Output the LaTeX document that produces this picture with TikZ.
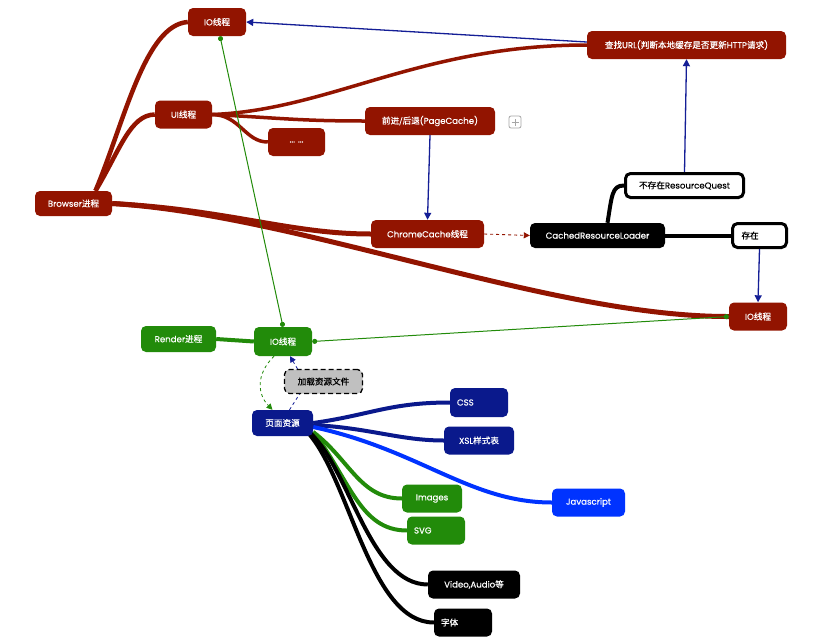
\documentclass[tikz,border=0pt]{standalone}
\usepackage{fontspec}
\setmainfont{Poppins}[FakeBold=0.5]
\newfontfamily\cjk{Noto Sans CJK SC}[FakeBold=0.6]
\newcommand\zh[1]{{\cjk #1}}
\usetikzlibrary{arrows.meta}
\definecolor{dred}{RGB}{146,20,0}
\definecolor{dgreen}{RGB}{34,139,10}
\definecolor{dblue}{RGB}{10,25,140}
\definecolor{bblue}{RGB}{0,51,255}
\definecolor{lblue}{RGB}{20,30,150}
\definecolor{lgray}{RGB}{192,192,192}
\pgfdeclarelayer{bg}
\pgfsetlayers{bg,main}
\begin{document}
\begin{tikzpicture}[x=1pt,y=-1pt,
  box/.style={rounded corners=5pt, text=white, font=\fontsize{8.6}{10}\selectfont, inner sep=0pt, minimum height=28pt},
  rbox/.style={box, fill=dred},
  gbox/.style={box, fill=dgreen},
  bbox/.style={box, fill=dblue},
  kbox/.style={box, fill=black},
  wbox/.style={box, fill=white, text=black, draw=black, line width=3pt},
  rbr/.style={draw=dred, line width=4.5pt},
  gbr/.style={draw=dgreen, line width=4pt},
  bbr/.style={draw=dblue, line width=4pt},
  lbbr/.style={draw=bblue, line width=4pt},
  kbr/.style={draw=black, line width=4pt},
  bluearr/.style={draw=lblue, line width=1.3pt, -{Triangle[width=7pt,length=7pt]}},
  greenlink/.style={draw=dgreen, line width=1pt, {Circle[length=5pt]}-{Circle[length=5pt]}}]
\useasboundingbox (0,0) rectangle (838,640);

% nodes
\node[rbox, minimum width=58pt] (io1) at (217,22) {IO\zh{线程}};
\node[rbox, minimum width=57pt] (ui) at (183.5,114.5) {UI\zh{线程}};
\node[rbox, minimum width=77pt, minimum height=25pt] (br) at (73.5,203.5) {Browser\zh{进程}};
\node[rbox, minimum width=57pt] (dots) at (296.5,142) {... ...};
\node[rbox, minimum width=130pt] (fb) at (430,121) {\zh{前进/后退}(PageCache)};
\node[rbox, minimum width=199pt] (url) at (686.5,45) {\zh{查找}URL(\zh{判断本地缓存是否更新}HTTP\zh{请求})};
\node[wbox, minimum width=118pt, minimum height=24pt] (nc) at (684.5,185.5) {\zh{不存在}ResourceQuest};
\node[rbox, minimum width=113pt] (cc) at (427.5,234) {ChromeCache\zh{线程}};
\node[kbox, minimum width=135pt, minimum height=25pt] (crl) at (597.5,235.5) {CachedResourceLoader};
\node[wbox, minimum width=54pt, minimum height=24pt] (cz) at (759.5,235.5) {\makebox[36pt][l]{\zh{存在}}};
\node[rbox, minimum width=58pt] (io2) at (758,316.5) {IO\zh{线程}};
\node[gbox, minimum width=75pt, minimum height=26pt] (rd) at (178.5,339) {Render\zh{进程}};
\node[gbox, minimum width=58pt, minimum height=29pt] (io3) at (283,341.5) {IO\zh{线程}};
\node[box, fill=lgray, text=black, draw=black, dash pattern=on 5pt off 3pt, line width=1.3pt, minimum width=78pt, minimum height=24pt] (ld) at (323.5,381.5) {\zh{加载资源文件}};
\node[bbox, minimum width=61pt, minimum height=26pt] (pr) at (282.5,423) {\zh{页面资源}};
\node[bbox, minimum width=58pt, minimum height=29pt] (css) at (479,402.5) {\makebox[44pt][l]{CSS}};
\node[bbox, minimum width=70pt] (xsl) at (479,440.5) {XSL\zh{样式表}};
\node[box, fill=bblue, minimum width=73pt] (js) at (588.5,502.5) {Javascript};
\node[gbox, minimum width=60pt] (img) at (432,498.5) {Images};
\node[gbox, minimum width=58pt] (svg) at (436,530.5) {\makebox[44pt][l]{SVG}};
\node[kbox, minimum width=92pt] (vid) at (474,584.5) {Video,Audio\zh{等}};
\node[kbox, minimum width=58pt] (font) at (463,622.5) {\makebox[44pt][l]{\zh{字体}}};
\node[draw=gray!70, rounded corners=2pt, minimum size=12pt, inner sep=0pt, line width=0.8pt] (plus) at (515,122) {};
\draw[gray!70, line width=0.8pt] ([xshift=-3.5pt]plus.center) -- ([xshift=3.5pt]plus.center)
  ([yshift=-3.5pt]plus.center) -- ([yshift=3.5pt]plus.center);

% branches
\begin{pgfonlayer}{bg}
\fill[white] (0,0) rectangle (838,640);
\draw[rbr] (br.30) .. controls (125,120) and (145,25) .. (io1.west);
\draw[rbr] (br.30) .. controls (120,150) and (130,115) .. (ui.west);
\draw[rbr, line width=5pt] (br.east) .. controls (230,210) and (290,234) .. (cc.west);
\draw[rbr, line width=5pt] (br.east) .. controls (300,215) and (550,317) .. (io2.west);
\draw[rbr, line width=3.5pt] (ui.east) .. controls (330,110) and (420,45) .. (url.west);
\draw[rbr, line width=3.5pt] (ui.east) .. controls (280,118) and (300,121) .. (fb.west);
\draw[rbr, line width=3.5pt] (ui.east) .. controls (240,115) and (245,142) .. (dots.west);
\draw[kbr] ([xshift=10pt]crl.north) .. controls (612,195) and (612,185.5) .. (nc.west);
\draw[kbr] (crl.east) -- (cz.west);
\draw[gbr] (rd.east) -- (io3.west);
\draw[bbr] (pr.east) .. controls (370,415) and (390,402.5) .. (css.west);
\draw[bbr] ([yshift=-2pt]pr.east) .. controls (370,428) and (400,440.5) .. (xsl.west);
\draw[lbbr] ([yshift=-4pt]pr.east) .. controls (420,450) and (470,502.5) .. (js.west);
\draw[gbr] ([yshift=-9pt]pr.east) .. controls (350,460) and (360,498.5) .. (img.west);
\draw[gbr] ([yshift=-9pt]pr.east) .. controls (350,480) and (360,530.5) .. (svg.west);
\draw[kbr] ([xshift=-3pt,yshift=-10pt]pr.east) .. controls (350,470) and (370,584.5) .. (vid.west);
\draw[kbr] ([xshift=-5pt,yshift=-10pt]pr.east) .. controls (350,480) and (370,622.5) .. (font.west);
\end{pgfonlayer}

% links
\draw[bluearr] ([yshift=3pt]url.west) -- (io1.east);
\draw[bluearr] (nc.north) -- (url.south);
\draw[bluearr] (fb.south) -- (cc.north);
\draw[bluearr] (cz.south) -- (io2.north);
\draw[dred, line width=0.9pt, dashed, -{Triangle[width=6pt,length=6pt]}] (cc.east) -- (crl.west);
\draw[greenlink] (io3.north) -- ([xshift=3pt]io1.south);
\draw[greenlink] (io3.east) -- (io2.west);
\draw[dgreen, line width=0.8pt, dashed, -{Triangle[width=6pt,length=6pt]}] ([xshift=-9pt]io3.south) .. controls (255,375) and (258,395) .. ([xshift=-10pt]pr.north);
\draw[lblue, line width=0.8pt, dashed] ([xshift=7pt]pr.north) -- ([xshift=-24pt]ld.south);
\draw[lblue, line width=0.8pt, dashed, -{Triangle[width=6pt,length=6pt]}] ([xshift=-26pt]ld.north) -- ([xshift=7pt]io3.south);
\end{tikzpicture}
\end{document}
